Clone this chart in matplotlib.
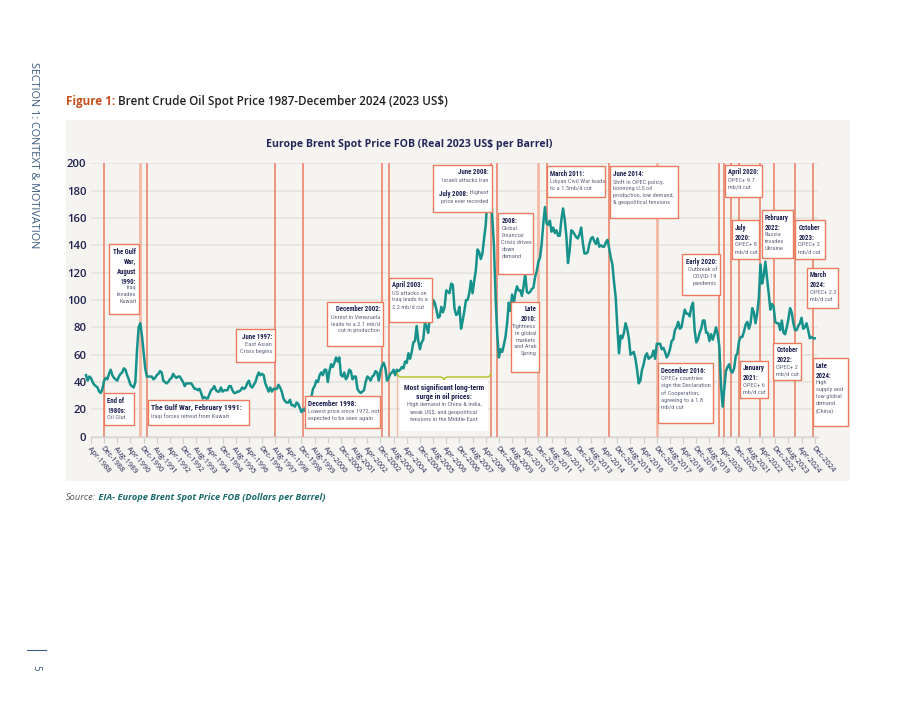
import matplotlib.pyplot as plt
import matplotlib.transforms as mtransforms
from matplotlib import font_manager
from matplotlib.patches import Rectangle, PathPatch
from matplotlib.path import Path
from matplotlib.lines import Line2D

# monthly Brent spot, real 2023 US$ per barrel, Jan-1988 .. Dec-2024
brent_real = [
    45, 41, 44, 43, 40, 38, 37, 36, 33, 32, 35, 41,            # 1988
    43, 42, 46, 49, 45, 43, 42, 41, 44, 46, 47, 50,            # 1989
    49, 45, 42, 38, 37, 36, 40, 63, 80, 83, 74, 62,            # 1990
    50, 44, 44, 44, 44, 42, 43, 45, 46, 48, 47, 41,            # 1991
    40, 39, 40, 42, 43, 46, 44, 43, 44, 44, 42, 40,            # 1992
    37, 39, 39, 39, 39, 37, 35, 35, 34, 35, 32, 28,            # 1993
    29, 28, 28, 31, 34, 35, 37, 34, 33, 33, 36, 33,            # 1994
    34, 34, 34, 37, 37, 34, 32, 32, 33, 33, 34, 36,            # 1995
    35, 36, 39, 41, 37, 36, 38, 40, 44, 47, 45, 46,            # 1996
    45, 39, 36, 33, 36, 33, 35, 35, 35, 38, 36, 33,            # 1997
    28, 26, 25, 25, 27, 23, 23, 22, 25, 24, 21, 18,            # 1998
    20, 19, 23, 28, 28, 29, 35, 37, 41, 40, 45, 47,            # 1999
    45, 49, 49, 40, 48, 53, 51, 54, 58, 55, 58, 45,            # 2000
    44, 47, 42, 44, 49, 48, 42, 44, 44, 35, 33, 32,            # 2001
    33, 34, 40, 44, 43, 41, 44, 45, 48, 47, 41, 48,            # 2002
    52, 54, 50, 41, 43, 46, 47, 49, 45, 49, 48, 49,            # 2003
    51, 50, 55, 54, 61, 57, 62, 69, 70, 81, 70, 64,            # 2004
    69, 71, 83, 81, 76, 87, 90, 100, 98, 93, 87, 88,           # 2005
    95, 91, 95, 107, 106, 105, 112, 111, 94, 89, 90, 95,       # 2006
    79, 85, 92, 100, 100, 105, 114, 105, 114, 122, 137, 135,   # 2007
    130, 134, 145, 155, 174, 185, 186, 160, 139, 102, 75, 58,  # 2008
    64, 62, 67, 73, 83, 98, 92, 104, 97, 105, 110, 107,        # 2009
    107, 103, 110, 119, 106, 105, 106, 108, 109, 117, 121, 128,  # 2010
    131, 141, 156, 168, 156, 155, 158, 150, 153, 149, 151, 147,  # 2011
    147, 159, 167, 159, 147, 127, 136, 151, 150, 148, 146, 145,  # 2012
    148, 153, 142, 134, 134, 135, 141, 145, 146, 143, 141, 145,  # 2013
    139, 140, 139, 139, 142, 144, 138, 131, 126, 113, 102, 80,   # 2014
    61, 74, 72, 76, 83, 79, 72, 60, 61, 62, 57, 49,            # 2015
    39, 41, 49, 53, 59, 61, 57, 58, 59, 63, 57, 68,            # 2016
    68, 68, 64, 65, 62, 58, 60, 64, 70, 71, 78, 80,            # 2017
    84, 79, 80, 87, 93, 90, 90, 88, 95, 98, 78, 69,            # 2018
    71, 76, 79, 85, 85, 76, 76, 70, 75, 71, 75, 80,            # 2019
    75, 66, 38, 22, 35, 48, 51, 53, 48, 47, 50, 59,            # 2020
    61, 70, 73, 73, 77, 82, 84, 79, 83, 94, 91, 83,            # 2021
    90, 101, 126, 112, 118, 128, 116, 105, 93, 97, 95, 84,     # 2022
    83, 83, 78, 85, 76, 75, 80, 86, 94, 91, 83, 78,            # 2023
    78, 81, 83, 87, 79, 80, 83, 78, 72, 73, 72, 72,            # 2024
]

tick_labels = [
    "Apr-1988", "Dec-1988", "Aug-1989", "Apr-1990", "Dec-1990", "Aug-1991",
    "Apr-1992", "Dec-1992", "Aug-1993", "Apr-1994", "Dec-1994", "Aug-1995",
    "Apr-1996", "Dec-1996", "Aug-1997", "Apr-1998", "Dec-1998", "Aug-1999",
    "Apr-2000", "Dec-2000", "Aug-2001", "Apr-2002", "Dec-2002", "Aug-2003",
    "Apr-2004", "Dec-2004", "Aug-2005", "Apr-2006", "Dec-2006", "Aug-2007",
    "Apr-2008", "Dec-2008", "Aug-2009", "Apr-2010", "Dec-2010", "Aug-2011",
    "Apr-2012", "Dec-2012", "Aug-2013", "Apr-2014", "Dec-2014", "Aug-2015",
    "Apr-2016", "Dec-2016", "Aug-2017", "Apr-2018", "Dec-2018", "Aug-2019",
    "Apr-2020", "Dec-2020", "Aug-2021", "Apr-2022", "Dec-2022", "Aug-2023",
    "Apr-2024", "Dec-2024",
]

# event markers (vertical lines) as drawn on the chart
event_dates = [
    "1988-12", "1990-10", "1991-02", "1997-08", "1999-01", "2003-01",
    "2003-05", "2008-07", "2008-11", "2010-12", "2011-05", "2014-07",
    "2016-12", "2020-02", "2020-05", "2020-09", "2021-02", "2022-03",
    "2022-11", "2023-12", "2024-11",
]
event_light = [
    False, True, False, False, False, False,
    False, False, False, True, False, False,
    True, False, False, False, False, False,
    False, False, False,
]

MONTHS = ["Jan", "Feb", "Mar", "Apr", "May", "Jun",
          "Jul", "Aug", "Sep", "Oct", "Nov", "Dec"]


def ym_index(year, month):
    return (year - 1988) * 12 + (month - 1)


def label_index(lab):
    m, y = lab.split("-")
    return ym_index(int(y), MONTHS.index(m) + 1)


def date_index(s):
    y, m = s.split("-")
    return ym_index(int(y), int(m))


# フォント
names = {f.name for f in font_manager.fontManager.ttflist}
COND = "DejaVu Sans"
for cand in ["Liberation Sans Narrow", "Roboto Condensed", "Open Sans Condensed",
             "DejaVu Sans Condensed", "Roboto"]:
    if cand in names:
        COND = cand
        break
SANS = "Open Sans" if "Open Sans" in names else "DejaVu Sans"

NAVY = "#1f2150"
SLATE = "#62667f"
CORAL = "#ec7b5e"
CORAL_LIGHT = "#f5b9a7"
TEAL = "#17918b"

W, H = 920, 711
fig = plt.figure(figsize=(W / 100, H / 100), dpi=100)
pix = mtransforms.Affine2D().scale(1 / W, -1 / H).translate(0, 1) + fig.transFigure

# panel background
fig.patches.append(Rectangle((66, 120), 784, 361, transform=pix,
                             facecolor="#f5f4f0", edgecolor="none", zorder=-1))

# axes: month index -> pixel 86 + 1.645*i
X0, X1 = 2.8, 445
L = 86 + 1.645 * X0
R = 86 + 1.645 * X1
ax = fig.add_axes([L / W, (H - 436.7) / H, (R - L) / W, (436.7 - 163.3) / H])
ax.patch.set_alpha(0)
ax.set_xlim(X0, X1)
ax.set_ylim(0, 200)

ax.set_yticks(range(0, 201, 20))
ax.yaxis.grid(True, color="#e4e2dd", lw=1.1)
ax.set_axisbelow(True)
for s in ["top", "right", "left"]:
    ax.spines[s].set_visible(False)
ax.spines["bottom"].set_color("#d8d6d1")
ax.spines["bottom"].set_linewidth(1.0)
ax.tick_params(axis="y", length=0, pad=3, labelsize=8.2, labelcolor=NAVY)
for t in ax.get_yticklabels():
    t.set_fontfamily(SANS)
    t.set_fontweight("semibold")

ax.set_xticks([label_index(t) for t in tick_labels])
ax.set_xticklabels(tick_labels, rotation=-50, ha="left", va="top",
                   rotation_mode="anchor", fontsize=5.3, color=NAVY, family=SANS)
ax.tick_params(axis="x", length=4, width=0.8, color="#d0cec9", pad=2)

months = list(range(len(brent_real)))
ax.plot(months, brent_real, color=TEAL, lw=1.8, zorder=3, clip_on=False,
        solid_joinstyle="round")

for d, light in zip(event_dates, event_light):
    ax.axvline(date_index(d), color=CORAL_LIGHT if light else CORAL,
               lw=2.0 if light else 1.1, zorder=2)

# bracket for the 2003-2008 surge
ax.add_line(Line2D([397.3, 397.3], [374, 436.7], transform=pix, color=CORAL_LIGHT,
                   lw=1.0, zorder=2, clip_on=False))
verts = [(397.3, 372.5), (397.3, 377), (401, 377), (440, 377), (444, 377), (444, 381),
         (444, 377), (448, 377), (487, 377), (490.7, 377), (490.7, 372.5)]
codes = [Path.MOVETO, Path.CURVE3, Path.CURVE3, Path.LINETO, Path.CURVE3, Path.CURVE3,
         Path.CURVE3, Path.CURVE3, Path.LINETO, Path.CURVE3, Path.CURVE3]
ax.add_patch(PathPatch(Path(verts, codes), transform=pix, fc="none", ec="#b4c632",
                       lw=1.1, zorder=4, clip_on=False))

FS_HEAD = 4.9
FS_BODY = 4.6
LH = 9.33  # px per text line (6.72 pt)


def note(x, y, s, align, bold=False, fs=None):
    if fs is None:
        fs = FS_HEAD if bold else FS_BODY
    return ax.text(x, y, s, transform=pix, ha=align, va="top", fontsize=fs,
                   fontweight="bold" if bold else "normal",
                   color=NAVY if bold else SLATE, family=COND,
                   linespacing=6.72 / fs, zorder=6, clip_on=False)


def box(x0, y0, x1, y1, align, head, body, border=True, fs_head=None, lh=LH):
    ax.add_patch(Rectangle((x0, y0), x1 - x0, y1 - y0, transform=pix, fc="white",
                           ec=CORAL if border else "none", lw=1.0, zorder=5,
                           clip_on=False))
    tx = {"left": x0 + 3, "right": x1 - 3, "center": (x0 + x1) / 2}[align]
    ty = y0 + 3.5
    note(tx, ty, head, align, bold=True, fs=fs_head)
    if body:
        nh = head.count("\n") + 1
        note(tx, ty + nh * lh, body, align)


box(109.3, 244.3, 139.3, 314, "right", "The Gulf\nWar,\nAugust\n1990:",
    "Iraq\ninvades\nKuwait")
box(104.3, 393.3, 134, 425, "left", "End of\n1980s:", "Oil Glut")
box(148.3, 400, 249, 425, "left", "The Gulf War, February 1991:",
    "Iraqi forces retreat from Kuwait", fs_head=5.6)
box(235.7, 329.3, 275, 362.3, "right", "June 1997:", "East Asian\nCrisis begins")
box(305, 396, 380, 428, "left", "December 1998:",
    "Lowest price since 1972, not\nexpected to be seen again", fs_head=5.3)
box(327.3, 301.7, 383.3, 346, "right", "December 2002:",
    "Unrest in Venezuela\nleads to a 2.1 mb/d\ncut in production")
box(389.3, 277.7, 431.7, 321.7, "left", "April 2003:",
    "US attacks on\nIraq leads to a\n2.2 mb/d cut")
box(400, 380, 488, 431, "center", "Most significant long-term\nsurge in oil prices:",
    "High demand in China & India,\nweak US$, and geopolitical\ntensions in the Middle-East",
    border=False, fs_head=5.4)
box(433.3, 165, 491.7, 211.7, "right", "June 2008:", "Israeli attacks Iran")
# mixed bold / light line in the June 2008 box
hi = note(488.7, 165 + 3.5 + 2.3 * LH, " Highest", "right")
note(488.7, 165 + 3.5 + 3.3 * LH, "price ever recorded", "right")
ax.annotate("July 2008:", xy=(0, 1), xycoords=hi, ha="right", va="top",
            fontsize=FS_HEAD, fontweight="bold", color=NAVY, family=COND, zorder=6,
            annotation_clip=False)
box(498.3, 213.3, 533.3, 274, "left", "2008:",
    "Global\nFinancial\nCrisis drives\ndown\ndemand")
box(511.3, 301.7, 539.3, 371.7, "right", "Late\n2010:",
    "Tightness\nin global\nmarkets\nand Arab\nSpring")
box(547.3, 166, 605, 196.7, "left", "March 2011:",
    "Libyan Civil War leads\nto a 1.5mb/d cut")
box(610, 166, 678.3, 217.7, "left", "June 2014:",
    "Shift in OPEC policy,\nbooming U.S oil\nproduction, low demand,\n& geopolitical tensions")
box(681.7, 254.3, 720.3, 295, "right", "Early 2020:", "Outbreak of\nCOVID-19\npandemic")
box(658.3, 363.3, 713.3, 422.7, "left", "December 2016:",
    "OPEC+ countries\nsign the Declaration\nof Cooperation,\nagreeing to a 1.8\nmb/d cut")
box(725.3, 165, 761.7, 197.3, "left", "April 2020:", "OPEC+ 9.7\nmb/d cut")
box(731.7, 220, 759, 259, "left", "July\n2020:", "OPEC+ 8\nmb/d cut")
box(761.7, 210, 792.7, 257.7, "left", "February\n2022:", "Russia\ninvades\nUkraine")
box(795.3, 220, 825.3, 259.3, "left", "October\n2023:", "OPEC+ 2\nmb/d cut")
box(806.7, 267.7, 837.7, 307.7, "left", "March\n2024:", "OPEC+ 2.2\nmb/d cut")
box(740, 360.7, 768.3, 398.3, "left", "January\n2021:", "OPEC+ 6\nmb/d cut")
box(773.3, 342.7, 801, 380, "left", "October\n2022:", "OPEC+ 2\nmb/d cut")
box(812.7, 358.3, 848, 426, "left", "Late\n2024:",
    "High\nsupply and\nlow global\ndemand\n(China)")

# chart title
fig.text(409 / W, 1 - 144 / H, "Europe Brent Spot Price FOB (Real 2023 US$ per Barrel)",
         ha="center", va="center", fontsize=7.6, fontweight="bold", color="#23265a",
         family=SANS)

# figure title
t1 = fig.text(66 / W, 1 - 101 / H, "Figure 1:", ha="left", va="center", fontsize=8.4,
              fontweight="bold", color="#c4511f", family=SANS)
ax.annotate(" Brent Crude Oil Spot Price 1987-December 2024 (2023 US$)", xy=(1, 0.5),
            xycoords=t1, ha="left", va="center", fontsize=8.4, fontweight="semibold",
            color="#231f20", family=SANS, annotation_clip=False)

# source
s1 = fig.text(66 / W, 1 - 497 / H, "Source:", ha="left", va="center", fontsize=6.7,
              style="italic", color="#555555", family=SANS)
ax.annotate(" EIA- Europe Brent Spot Price FOB (Dollars per Barrel)", xy=(1, 0.5),
            xycoords=s1, ha="left", va="center", fontsize=6.7, style="italic",
            fontweight="bold", color="#1c6a6a", family=SANS, annotation_clip=False)

# page side text
fig.text(33 / W, 1 - 62 / H, "SECTION 1: CONTEXT & MOTIVATION", rotation=270,
         ha="center", va="top", fontsize=7.8, color="#3d5a80", family=SANS)
fig.lines.append(Line2D([27 / W, 46 / W], [1 - 650 / H, 1 - 650 / H],
                        transform=fig.transFigure, color="#3d5a80", lw=0.8))
fig.text(36 / W, 1 - 668 / H, "5", rotation=270, ha="center", va="center",
         fontsize=7, color="#3d5a80", family=SANS)

fig.savefig("out.png", dpi=100)
